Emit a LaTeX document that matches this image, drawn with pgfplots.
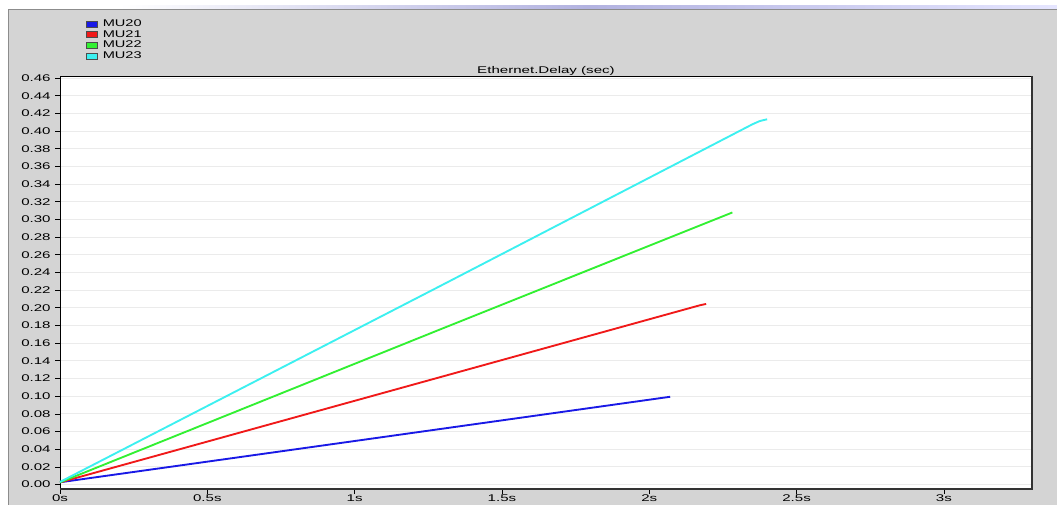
\documentclass[border=0pt]{standalone}
\usepackage{graphicx}
\usepackage{pgfplots}
\pgfplotsset{compat=1.18}
\usepackage{fontspec}
\setmainfont{Liberation Sans}
\newfontfamily\chartfont[FakeStretch=1.55]{Liberation Sans}
\newcommand\cf{\chartfont\fontsize{7.3}{8.5}\selectfont}
\newcommand\lf[1]{\scalebox{1.5}[1]{\fontsize{7.3}{8.5}\selectfont #1}}
\definecolor{bgray}{RGB}{212,212,212}
\definecolor{mublue}{RGB}{25,25,230}
\definecolor{mured}{RGB}{240,25,25}
\definecolor{mugreen}{RGB}{50,240,50}
\definecolor{mucyan}{RGB}{60,240,240}
\begin{document}
\begin{tikzpicture}
\path[use as bounding box] (0,0) rectangle (792.75pt,378.75pt);
\fill[white] (0,0) rectangle (792.75pt,378.75pt);
\fill[bgray] (6pt,0) rectangle (792.75pt,371.25pt);
\shade[left color=white, right color=blue!10!white, middle color=black!40!blue!30!white] (90pt,372pt) rectangle (792.75pt,374.5pt);
\draw[black!45, line width=0.75pt] (6pt,0) -- (6pt,371.25pt) -- (792.75pt,371.25pt);
\begin{axis}[
  at={(45pt,12pt)}, anchor=south west,
  scale only axis, width=729pt, height=309.75pt,
  xmin=0, xmax=3.299, ymin=-0.005, ymax=0.4625,
  axis background/.style={fill=white},
  xtick={0,0.5,1,1.5,2,2.5,3},
  xticklabels={0s,0.5s,1s,1.5s,2s,2.5s,3s},
  ytick distance=0.02,
  tick align=outside, major tick length=3.5pt,
  tick pos=left,
  tick style={black, line width=0.6pt},
  ymajorgrids, grid style={black!8, line width=0.75pt},
  axis line style={black, line width=0.6pt},
  ticklabel style={font=\cf},
  xticklabel style={yshift=2.5pt},
  yticklabel style={/pgf/number format/.cd, fixed, fixed zerofill, precision=2, assume math mode=true},
  title={Ethernet.Delay (sec)},
  every axis title shift=0pt,
  title style={font=\cf, at={(0.5,1)}, anchor=base, yshift=2pt},
  legend style={at={(axis description cs:0.0267,1.14)}, anchor=north west, draw=none, fill=none, inner sep=0pt, row sep=0pt, nodes={inner ysep=0.5pt, inner xsep=0pt, text height=5.5pt, text depth=1.5pt}, /tikz/every odd column/.append style={column sep=3.75pt}},
  legend cell align=left,
  legend image code/.code={\draw[#1, draw=black!70, line width=0.4pt, fill] (0pt,-2.25pt) rectangle (8.25pt,2.25pt);},
  clip=false,
]
\addplot[mublue, line width=1.4pt] coordinates {(0,0.0026) (1.0,0.0493) (2.071,0.0994)};
\addlegendentry{\lf{MU20}}
\addplot[mured, line width=1.4pt] coordinates {(0,0.0025) (1.0,0.0948) (2.17,0.2028) (2.193,0.2045)};
\addlegendentry{\lf{MU21}}
\addplot[mugreen, line width=1.4pt] coordinates {(0,0.0025) (1.29,0.1756) (2.282,0.308)};
\addlegendentry{\lf{MU22}}
\addplot[mucyan, line width=1.4pt] coordinates {(0,0.003) (1.29,0.2247) (2.35,0.4078) (2.375,0.4115) (2.40,0.4135)};
\addlegendentry{\lf{MU23}}
\draw[black!80, line width=1.3pt] (rel axis cs:0,0) -- (rel axis cs:1,0) -- (rel axis cs:1,1);
\end{axis}
\end{tikzpicture}
\end{document}
